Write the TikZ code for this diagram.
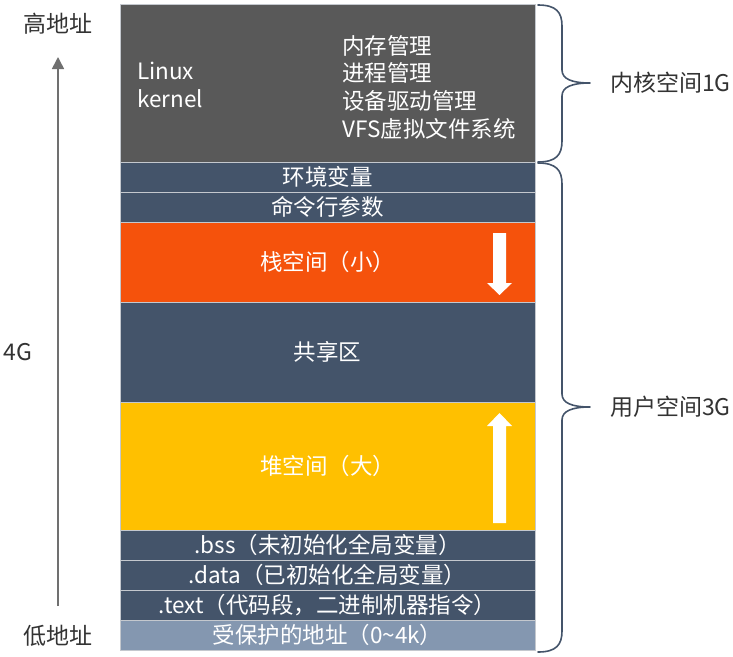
\documentclass[tikz,border=0pt]{standalone}
\usepackage{fontspec}
\setmainfont{Noto Sans CJK SC}
\usetikzlibrary{arrows.meta}

\definecolor{kernelgray}{HTML}{595959}
\definecolor{slate}{HTML}{44546A}
\definecolor{stackorange}{HTML}{F5520C}
\definecolor{heapyellow}{HTML}{FFC000}
\definecolor{guardblue}{HTML}{8497B0}
\definecolor{bracecol}{HTML}{44546A}
\definecolor{axisgray}{HTML}{707070}
\definecolor{labeltext}{HTML}{333333}
\definecolor{sepgray}{HTML}{C4C8CE}

\tikzset{
  seg/.style={draw=sepgray, line width=0.8pt, minimum width=415pt,
    inner sep=0pt, outer sep=0pt, text=white, anchor=north west,
    font=\fontsize{22.5}{26}\selectfont},
  whitetext/.style={text=white, inner sep=0pt, font=\fontsize{22.5}{26}\selectfont},
  sidelabel/.style={text=labeltext, inner sep=0pt, font=\fontsize{23}{27}\selectfont},
  brace/.style={draw=bracecol, line width=1.6pt, line cap=round, line join=round},
  axis/.style={draw=axisgray, line width=1.6pt, -{Triangle[width=12pt,length=12pt]}},
  blockarrow/.style={fill=white},
}

\begin{document}
\begin{tikzpicture}[x=1pt,y=-1pt]
\useasboundingbox (0,0) rectangle (733,656);

% memory segments, from high to low addresses
\node[seg, fill=kernelgray, minimum height=158pt] (kernel) at (120,4) {};
\node[seg, fill=slate, minimum height=30pt] (env) at (120,162) {环境变量};
\node[seg, fill=slate, minimum height=30pt] (args) at (120,192) {命令行参数};
\node[seg, fill=stackorange, minimum height=80pt] (stack) at (120,222) {栈空间（小）};
\node[seg, fill=slate, minimum height=100pt] (shared) at (120,302) {共享区};
\node[seg, fill=heapyellow, minimum height=128pt] (heap) at (120,402) {堆空间（大）};
\node[seg, fill=slate, minimum height=30pt] (bss) at (120,530) {.bss（未初始化全局变量）};
\node[seg, fill=slate, minimum height=30pt] (data) at (120,560) {.data（已初始化全局变量）};
\node[seg, fill=slate, minimum height=30pt] (text) at (120,590) {.text（代码段，二进制机器指令）};
\node[seg, fill=guardblue, minimum height=30pt] (guard) at (120,620) {受保护的地址（0\textasciitilde 4k）};

% kernel contents
\node[whitetext, anchor=west] (linux) at (137,71) {Linux};
\node[whitetext, anchor=west] (kname) at (137,99) {kernel};
\node[whitetext, anchor=west] (mm) at (342,46) {内存管理};
\node[whitetext, anchor=west] (pm) at (342,73) {进程管理};
\node[whitetext, anchor=west] (dm) at (342,101) {设备驱动管理};
\node[whitetext, anchor=west] (vfs) at (342,129) {VFS虚拟文件系统};

% growth directions of stack and heap
\fill[blockarrow] (493,233) -- (506,233) -- (506,283) -- (512,283) -- (499.5,295)
  -- (487,283) -- (493,283) -- cycle;
\fill[blockarrow] (499.5,413) -- (512,426) -- (506,426) -- (506,523) -- (493,523)
  -- (493,426) -- (487,426) -- cycle;

% address axis
\node[sidelabel] (hi) at (58,24) {高地址};
\node[sidelabel] (lo) at (58,636) {低地址};
\node[sidelabel] (size) at (18,352) {4G};
\coordinate (axbot) at (58,606);
\coordinate (axtop) at (58,57);
\draw[axis] (axbot) -- (axtop);

% kernel / user space braces
\draw[brace] (538,5) .. controls (556,5) and (562,12) .. (562,26) -- (562,70)
  .. controls (562,79) and (572,83) .. (590,83)
  .. controls (572,83) and (562,87) .. (562,96) -- (562,141)
  .. controls (562,155) and (556,162) .. (538,162);
\draw[brace] (538,163) .. controls (556,163) and (562,170) .. (562,184) -- (562,394)
  .. controls (562,403) and (572,407) .. (590,407)
  .. controls (572,407) and (562,411) .. (562,420) -- (562,631)
  .. controls (562,645) and (556,652) .. (538,652);
\node[sidelabel, anchor=west] (kspace) at (610,83) {内核空间1G};
\node[sidelabel, anchor=west] (uspace) at (610,407) {用户空间3G};
\end{tikzpicture}
\end{document}
